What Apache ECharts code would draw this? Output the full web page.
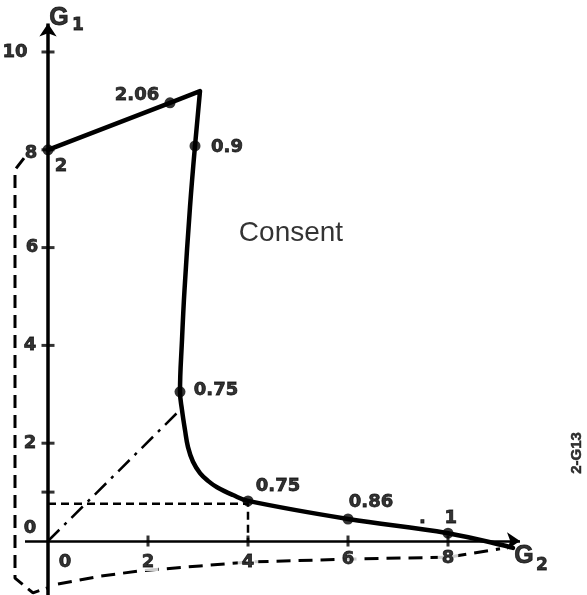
<!DOCTYPE html>
<html>
<head>
<meta charset="utf-8">
<script src="https://cdn.jsdelivr.net/npm/echarts@6/dist/echarts.min.js"></script>
<style>
  html, body { margin: 0; padding: 0; background: #fff; }
  #chart { width: 587px; height: 595px; }
</style>
</head>
<body>
<div id="chart"></div>
<script>
// Equilibrium path in the (G2, G1) plane: straight upper branch ...
const upperG2 = [0, 2.44, 3.04, 2.94];
const upperG1 = [8.0, 8.96, 9.20, 8.08];
// ... and the smooth descending branch
const lowerG2 = [2.94, 2.84, 2.73, 2.68, 2.64, 2.68, 2.74, 2.80, 2.90, 3.04, 3.20, 3.38, 3.70, 4.0, 6.0, 8.0, 9.3];
const lowerG1 = [8.08, 6.83, 5.13, 4.11, 3.05, 2.68, 2.27, 1.92, 1.62, 1.39, 1.23, 1.10, 0.94, 0.82, 0.45, 0.16, -0.14];

// Marked points on the path and their parameter values
const pointG2 = [0, 2.44, 2.94, 2.64, 4, 6, 8];
const pointG1 = [8, 8.96, 8.08, 3.05, 0.82, 0.45, 0.16];
const pointLabels = ['2', '2.06', '0.9', '0.75', '0.75', '0.86', '.   1'];

// Construction lines
const guideG2 = [0, 4, 4];
const guideG1 = [0.76, 0.76, 0];
const rayG2 = [0, 2.68];
const rayG1 = [0, 2.72];

// Perspective frame (dashed)
const frameSideG2 = [-0.48, -0.66, -0.66, -0.30, -0.02];
const frameSideG1 = [7.83, 7.59, -0.76, -1.06, -0.96];
const frameBaseG2 = [0.2, 1.04, 1.84, 3.04, 4, 6, 8, 9.04];
const frameBaseG1 = [-0.88, -0.72, -0.61, -0.51, -0.43, -0.37, -0.33, -0.16];

// Axis ticks and tick labels
const xTickMarks = [2, 4, 6, 8];
const yTickMarks = [1, 2, 4, 6, 8, 10];
const xTickValues = [0, 2, 4, 6, 8];
const xTickLabels = ['0', '2', '4', '6', '8'];
const yTickValues = [0, 2, 4, 6, 8, 10];
const yTickLabels = ['0', '2', '4', '6', '8', '10'];

const FONT = '"Liberation Sans", Arial, Helvetica, sans-serif';
const NUM_FONT = '"DejaVu Sans", Verdana, sans-serif';
const zip = (a, b) => a.map((v, i) => [v, b[i]]);

// label offsets (pixels)
const pointOffsets = [[13, 17], [-33, -8], [32, 1], [36, -2], [30, -15], [23, -17], [-10, -15]];
const xLabelOffsets = [[17, 21], [0, 21], [0, 21], [0, 18], [0, 17]];
const yLabelOffsets = [[-18, -13], [-18, 0], [-18, 0], [-16, 0], [-17, 4], [-33, 0]];

// heavy numerals: bold face plus a thin stroke of the same colour
const boldLabel = {
  fontFamily: NUM_FONT, fontWeight: 'bold', fontSize: 18, color: '#000',
  textBorderColor: '#000', textBorderWidth: 0.8
};

const option = {
  backgroundColor: '#fff',
  animation: false,
  grid: { left: 0, right: 0, top: 0, bottom: 0 },
  xAxis: { type: 'value', min: -0.96, max: 10.78, show: false },
  yAxis: { type: 'value', min: -1.104, max: 11.063, show: false },
  series: [
    // axes with arrow heads
    {
      type: 'lines', coordinateSystem: 'cartesian2d', z: 3,
      symbol: ['none', 'arrow'], symbolSize: [0, 13],
      lineStyle: { color: '#000', width: 3.5, opacity: 1, curveness: 0 },
      data: [
        { coords: [[0, -1.3], [0, 10.58]] },
        { coords: [[-0.46, 0], [9.44, 0]], lineStyle: { width: 2.5 } }
      ]
    },
    // tick marks
    {
      type: 'scatter', symbol: 'rect', symbolSize: [13, 3], z: 4,
      itemStyle: { color: '#000' }, silent: true,
      data: yTickMarks.map(v => [0, v])
    },
    {
      type: 'scatter', symbol: 'rect', symbolSize: [3, 11], z: 4,
      itemStyle: { color: '#000' }, silent: true,
      data: xTickMarks.map(v => [v, 0])
    },
    // dashed projection of the point at G2 = 4
    {
      type: 'line', showSymbol: false, z: 2,
      lineStyle: { color: '#000', width: 2.5, type: [8, 5] },
      data: zip(guideG2, guideG1)
    },
    // dash-dot ray from the origin
    {
      type: 'line', showSymbol: false, z: 2,
      lineStyle: { color: '#000', width: 2.5, type: [16, 7, 3, 7] },
      data: zip(rayG2, rayG1)
    },
    // dashed frame, vertical side
    {
      type: 'line', showSymbol: false, z: 2,
      lineStyle: { color: '#000', width: 3, type: [13, 7] },
      data: zip(frameSideG2, frameSideG1)
    },
    // dashed frame, base with arrow
    {
      type: 'lines', coordinateSystem: 'cartesian2d', polyline: true, z: 2,
      symbol: ['none', 'arrow'], symbolSize: [0, 9],
      lineStyle: { color: '#000', width: 3, type: [14, 8], opacity: 1 },
      data: [{ coords: zip(frameBaseG2, frameBaseG1) }]
    },
    // equilibrium path
    {
      type: 'line', showSymbol: false, z: 5,
      lineStyle: { color: '#000', width: 4.5, join: 'round', cap: 'round' },
      data: zip(upperG2, upperG1)
    },
    {
      type: 'line', showSymbol: false, z: 5, smooth: 0.4,
      lineStyle: { color: '#000', width: 4.5, join: 'round', cap: 'round' },
      data: zip(lowerG2, lowerG1)
    },
    // marked points
    {
      type: 'scatter', symbol: 'circle', symbolSize: 11, z: 6,
      itemStyle: { color: '#000' },
      data: pointG2.map((g2, i) => ({
        value: [g2, pointG1[i]],
        label: {
          show: true, position: 'inside', formatter: pointLabels[i],
          offset: pointOffsets[i], ...boldLabel
        }
      }))
    },
    // x tick labels
    {
      type: 'scatter', symbolSize: 0, z: 7,
      data: xTickValues.map((v, i) => ({
        value: [v, 0],
        label: {
          show: true, position: 'inside', formatter: xTickLabels[i],
          offset: xLabelOffsets[i], backgroundColor: '#fff', padding: [0, 4],
          ...boldLabel
        }
      }))
    },
    // y tick labels
    {
      type: 'scatter', symbolSize: 0, z: 7,
      data: yTickValues.map((v, i) => ({
        value: [0, v],
        label: {
          show: true, position: 'inside', formatter: yTickLabels[i],
          offset: yLabelOffsets[i], ...boldLabel
        }
      }))
    },
    // axis names, region name, figure code
    {
      type: 'scatter', symbolSize: 0, z: 7,
      data: [
        { value: [0.22, 10.70], label: { formatter: 'G', fontSize: 25, fontWeight: 'bold', textBorderColor: '#000', textBorderWidth: 0.8 } },
        { value: [0.60, 10.53], label: { formatter: '1', fontSize: 17, fontWeight: 'bold', fontFamily: NUM_FONT, textBorderColor: '#000', textBorderWidth: 0.8 } },
        { value: [9.52, -0.31], label: { formatter: 'G', fontSize: 25, fontWeight: 'bold', textBorderColor: '#000', textBorderWidth: 0.8 } },
        { value: [9.88, -0.51], label: { formatter: '2', fontSize: 17, fontWeight: 'bold', fontFamily: NUM_FONT, textBorderColor: '#000', textBorderWidth: 0.8 } },
        { value: [4.86, 6.30], label: { formatter: 'Consent', fontSize: 28, fontWeight: 'normal' } },
        { value: [10.58, 1.80], label: { formatter: '2-G13', fontSize: 15, fontWeight: 'bold', rotate: 90, textBorderColor: '#000', textBorderWidth: 0.5 } }
      ].map(d => ({
        value: d.value,
        label: Object.assign({ show: true, position: 'inside', fontFamily: FONT, color: '#000' }, d.label)
      }))
    }
  ]
};

const chart = echarts.init(document.getElementById('chart'), null, { renderer: 'canvas' });
chart.setOption(option);
</script>
</body>
</html>
